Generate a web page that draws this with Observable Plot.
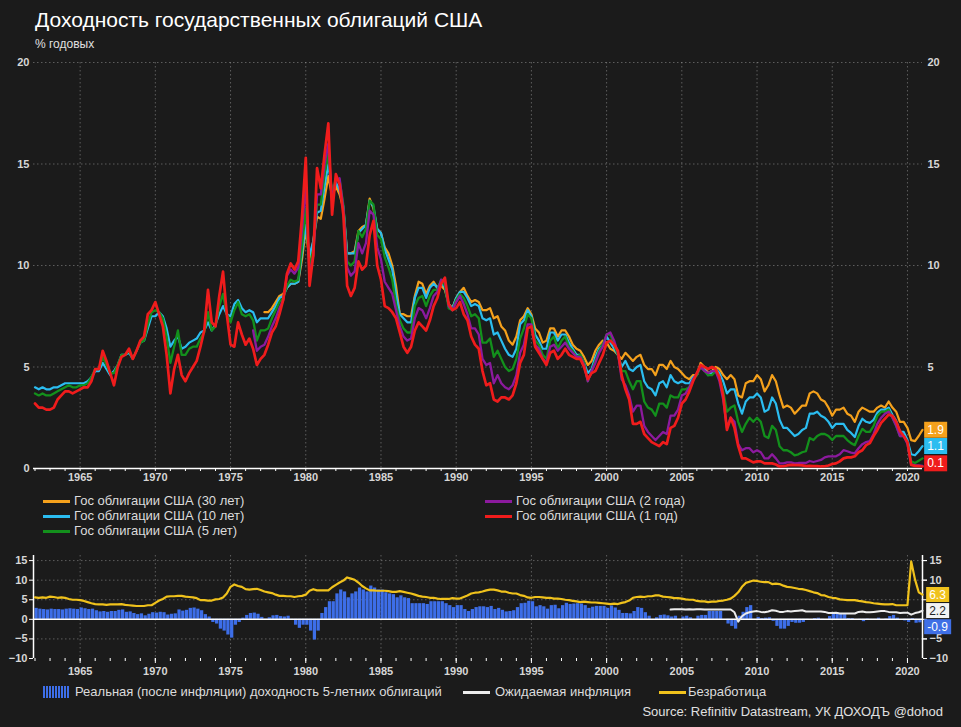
<!DOCTYPE html>
<html><head><meta charset="utf-8">
<script src="https://cdn.jsdelivr.net/npm/d3@7"></script>
<script src="https://cdn.jsdelivr.net/npm/@observablehq/plot@0.6"></script>
<style>
body{margin:0;background:#1b1b1b;}
#root{position:relative;width:961px;height:727px;background:#1b1b1b;overflow:hidden;font-family:"Liberation Sans",Arial,sans-serif;color:#e6e6e6;}
.abs{position:absolute;white-space:nowrap;}
#title{left:35px;top:8px;font-size:21px;line-height:24px;color:#fff;}
#sub{left:35px;top:37px;font-size:12px;line-height:14px;color:#e0e0e0;}
.lg{font-size:13px;line-height:14px;color:#dcdcdc;}
.lg2{font-size:13px;line-height:16px;color:#dcdcdc;}
.sw{position:absolute;height:3px;width:27px;}
#src{right:18px;top:704px;font-size:13px;line-height:16px;color:#e0e0e0;}
svg{position:absolute;left:0;}
</style></head>
<body><div id="root">
<div id="title" class="abs">Доходность государственных облигаций США</div>
<div id="sub" class="abs">% годовых</div>
<div id="src" class="abs">Source: Refinitiv Datastream, УК ДОХОДЪ @dohod</div>
</div>
<script>
// ---------- DATA (quarterly, % p.a.) ----------
const startMain = 1962;         // first quarter of 1-, 5-, 10-year series
const start2y = 1976.5;         // 2-year series starts mid-1976
const start30y = 1977.25;       // 30-year series starts Q2 1977
const startExpInfl = 2004.25;   // expected inflation starts 2004

const yield1y = [
3.2,3.0,3.0,2.9, 2.9,3.0,3.4,3.6, 3.8,3.8,3.7,3.8, 3.9,4.0,4.0,4.3, 4.9,4.9,5.8,5.3,
4.7,4.1,5.0,5.5, 5.6,5.9,5.4,5.8, 6.3,6.5,7.6,7.8, 8.2,7.6,7.0,5.6, 3.7,4.9,5.6,4.6,
4.3,4.7,5.0,5.3, 6.0,6.8,8.8,7.2, 7.0,8.5,9.7,7.6, 6.1,6.0,7.2,6.6, 6.1,6.4,5.9,5.1,
5.4,5.6,6.1,6.7, 7.0,7.6,8.3,9.6, 10.1,9.8,10.2,12.4, 15.3,9.0,10.5,14.8, 13.8,15.5,17.0,12.5,
14.5,14.0,12.5,9.0, 8.5,8.9,10.2,9.8, 10.0,11.5,12.2,10.0, 9.3,8.0,7.9,7.7, 7.4,6.7,6.0,5.7,
6.0,6.8,7.2,7.0, 6.8,7.3,8.0,8.4, 9.1,9.4,8.1,7.8, 7.9,8.2,7.6,7.3, 6.5,6.1,5.9,4.8,
4.1,4.2,3.4,3.3, 3.5,3.5,3.4,3.6, 4.2,5.2,5.6,6.9, 7.0,6.0,5.7,5.4, 5.1,5.7,5.8,5.4,
5.6,5.9,5.6,5.5, 5.4,5.4,5.0,4.4, 4.7,4.8,5.2,5.6, 6.2,6.3,6.1,5.8, 4.6,3.9,3.4,2.2,
2.2,2.3,1.7,1.5, 1.3,1.2,1.1,1.3, 1.2,2.0,2.1,2.5, 3.2,3.4,3.8,4.3, 4.7,5.1,5.0,4.9,
5.0,4.9,4.5,3.6, 1.9,2.5,2.0,1.1, 0.5,0.5,0.4,0.3, 0.35,0.35,0.25,0.25, 0.25,0.2,0.1,0.11,
0.15,0.18,0.17,0.17, 0.15,0.12,0.13,0.12, 0.12,0.1,0.11,0.15, 0.22,0.25,0.35,0.5, 0.55,0.55,0.6,0.8,
0.9,1.15,1.25,1.6, 1.9,2.25,2.45,2.65, 2.6,2.3,1.85,1.6, 1.3,0.17,0.13,0.12, 0.1];

const yield5y = [
3.7,3.6,3.7,3.6, 3.6,3.7,3.8,3.9, 4.0,4.1,4.0,4.0, 4.1,4.1,4.2,4.5, 4.9,4.9,5.5,5.1,
4.7,4.7,5.1,5.6, 5.6,5.8,5.4,5.8, 6.2,6.3,7.1,7.7, 7.8,7.7,7.4,6.5, 5.2,6.0,6.8,5.6,
5.6,5.9,6.0,6.0, 6.4,6.7,7.7,6.8, 7.0,8.0,8.6,7.6, 7.2,7.8,8.2,7.6, 7.5,7.6,7.3,6.3,
6.8,6.8,6.9,7.4, 7.8,8.2,8.4,9.0, 9.3,9.2,9.3,10.9, 12.8,9.9,10.8,13.0, 13.0,14.5,15.5,13.5,
14.3,14.2,13.0,10.2, 10.0,10.2,11.7,11.4, 11.8,13.2,13.0,11.5, 11.3,10.4,9.9,9.3, 8.1,7.3,6.9,6.7,
6.7,8.0,8.4,8.5, 8.0,8.5,8.8,8.8, 9.3,9.0,7.9,7.8, 8.3,8.6,8.4,8.0, 7.5,7.6,7.4,6.2,
6.2,6.4,5.5,5.8, 5.4,5.0,4.8,4.9, 5.4,6.4,6.9,7.6, 7.4,6.3,6.1,5.6, 5.4,6.3,6.5,5.9,
6.3,6.5,6.0,5.8, 5.5,5.6,5.2,4.3, 4.8,5.3,5.8,6.1, 6.6,6.6,6.1,5.6, 4.8,4.8,4.3,3.9,
4.3,4.3,3.3,3.0, 2.9,2.6,3.2,3.2, 3.0,3.6,3.5,3.5, 3.9,3.9,4.0,4.4, 4.6,5.0,4.8,4.6,
4.6,4.8,4.5,3.8, 2.8,3.0,3.1,2.3, 1.8,2.2,2.5,2.3, 2.5,2.3,1.6,1.5, 2.1,1.9,1.1,0.9,
0.9,0.8,0.65,0.7, 0.8,0.85,1.5,1.4, 1.6,1.7,1.7,1.6, 1.4,1.6,1.6,1.6, 1.4,1.25,1.15,1.6,
1.95,1.8,1.8,2.1, 2.6,2.8,2.8,2.9, 2.5,2.1,1.6,1.6, 1.3,0.35,0.27,0.38, 0.5];

const yield10y = [
4.0,3.9,4.0,3.9, 3.9,4.0,4.0,4.1, 4.2,4.2,4.2,4.2, 4.2,4.2,4.3,4.5, 4.8,4.8,5.2,4.9,
4.6,4.8,5.1,5.6, 5.6,5.7,5.4,5.8, 6.2,6.3,6.9,7.5, 7.5,7.7,7.5,6.9, 6.0,6.3,6.5,5.9,
6.0,6.2,6.3,6.4, 6.7,6.8,7.2,6.8, 7.1,7.6,8.0,7.6, 7.5,8.1,8.3,7.9, 7.7,7.8,7.7,7.2,
7.4,7.4,7.4,7.7, 8.0,8.4,8.5,8.9, 9.1,9.1,9.2,10.6, 12.0,10.5,11.2,12.6, 12.7,13.9,15.0,13.6,
14.1,13.7,12.9,10.6, 10.6,10.6,11.6,11.8, 12.0,13.2,12.9,11.8, 11.6,10.8,10.3,9.8, 8.6,7.6,7.4,7.2,
7.2,8.4,8.9,8.9, 8.4,8.9,9.1,8.9, 9.2,8.9,8.1,7.9, 8.4,8.7,8.7,8.4, 8.0,8.1,8.0,7.4,
7.3,7.4,6.6,6.7, 6.3,5.9,5.6,5.5, 5.9,7.1,7.3,7.8, 7.5,6.6,6.3,5.9, 5.9,6.7,6.7,6.3,
6.6,6.6,6.2,5.9, 5.6,5.6,5.2,4.7, 4.9,5.5,5.9,6.1, 6.5,6.2,5.9,5.6, 5.0,5.3,4.9,4.8,
5.0,5.1,4.3,4.0, 3.9,3.6,4.2,4.3, 4.0,4.6,4.3,4.2, 4.3,4.2,4.2,4.5, 4.6,5.1,4.9,4.6,
4.7,4.9,4.7,4.3, 3.7,3.9,3.9,3.2, 2.7,3.3,3.5,3.5, 3.7,3.5,2.8,2.9, 3.5,3.2,2.4,2.0,
2.0,1.8,1.6,1.7, 1.9,2.0,2.7,2.7, 2.8,2.6,2.5,2.3, 2.0,2.2,2.2,2.2, 1.9,1.75,1.55,2.1,
2.45,2.3,2.25,2.4, 2.75,2.9,2.9,3.0, 2.65,2.35,1.8,1.8, 1.4,0.7,0.65,0.85, 1.1];

const yield2y = [
6.8,5.8,
6.0,6.1,6.5,7.0, 7.4,7.9,8.3,9.5, 9.8,9.6,9.9,11.8, 14.0,9.5,10.5,13.5, 13.5,15.0,16.0,13.2,
14.2,14.3,12.8,9.9, 9.5,9.7,11.1,10.6, 11.1,12.7,12.5,10.9, 10.3,9.2,8.9,8.6, 7.8,7.0,6.5,6.3,
6.4,7.4,7.9,7.8, 7.4,7.9,8.5,8.7, 9.3,9.2,8.0,7.8, 8.2,8.5,8.1,7.6, 6.9,6.9,6.6,5.4,
5.1,5.2,4.2,4.6, 4.2,4.0,3.9,4.1, 4.6,5.7,6.1,7.1, 7.1,6.1,5.9,5.4, 5.2,6.0,6.1,5.8,
6.0,6.2,5.9,5.7, 5.5,5.5,5.1,4.3, 4.8,5.2,5.7,6.0, 6.6,6.7,6.3,5.7, 4.4,4.1,3.6,2.8,
3.1,3.1,2.1,1.8, 1.6,1.4,1.6,1.8, 1.7,2.6,2.6,2.9, 3.6,3.7,4.0,4.4, 4.7,5.0,4.8,4.7,
4.8,4.8,4.3,3.4, 2.0,2.5,2.3,1.2, 0.9,1.0,1.0,0.8, 0.9,0.8,0.5,0.5, 0.7,0.5,0.25,0.25,
0.3,0.3,0.25,0.27, 0.27,0.27,0.37,0.32, 0.37,0.42,0.55,0.6, 0.6,0.6,0.7,0.9, 0.85,0.78,0.75,1.0,
1.2,1.3,1.35,1.7, 2.2,2.5,2.7,2.8, 2.5,2.1,1.6,1.6, 1.2,0.2,0.15,0.15, 0.13];

const yield30y = [
7.7,7.7,7.9,
8.2,8.5,8.6,8.9, 9.1,9.1,9.2,10.3, 11.8,10.2,11.2,12.4, 12.3,13.3,14.4,13.4,
13.9,13.5,12.8,10.6, 10.6,10.7,11.7,11.9, 12.0,13.3,12.8,11.8, 11.6,10.9,10.6,10.0, 9.0,7.6,7.6,7.5,
7.5,8.5,9.2,9.1, 8.6,9.0,9.2,8.9, 9.0,8.8,8.1,7.9, 8.4,8.7,8.9,8.5, 8.2,8.3,8.2,7.8,
7.8,7.9,7.4,7.5, 7.0,6.8,6.3,6.1, 6.5,7.3,7.5,7.9, 7.6,6.9,6.7,6.2, 6.3,6.9,6.9,6.5,
6.8,6.8,6.5,6.1, 5.9,5.8,5.5,5.1, 5.3,5.8,6.1,6.3, 6.2,5.9,5.8,5.6, 5.4,5.7,5.5,5.3,
5.5,5.6,5.1,4.9, 4.9,4.6,5.1,5.1, 4.9,5.3,5.0,4.9, 4.7,4.5,4.4,4.6, 4.6,5.2,5.0,4.7,
4.8,5.0,4.9,4.6, 4.4,4.6,4.4,3.6, 3.5,4.2,4.3,4.3, 4.6,4.4,3.8,4.1, 4.6,4.3,3.6,3.0,
3.1,3.0,2.7,2.9, 3.1,3.1,3.7,3.8, 3.7,3.4,3.3,3.0, 2.6,2.9,2.9,3.0, 2.7,2.6,2.3,2.8,
3.0,2.9,2.8,2.8, 3.0,3.1,3.0,3.3, 3.0,2.8,2.3,2.3, 2.0,1.4,1.35,1.6, 1.9];

// real (inflation-adjusted) 5-year yield
const realYield5y = [
2.8,2.6,2.5,2.4, 2.6,2.5,2.5,2.4, 2.6,2.7,2.6,2.5, 2.9,2.7,2.5,2.6, 2.2,1.9,2.0,1.8,
2.0,2.0,2.3,2.4, 1.8,1.9,1.5,1.2, 1.4,0.9,1.3,1.7, 1.6,1.8,1.7,1.1, 1.3,1.4,2.4,2.1,
2.3,2.8,2.9,2.6, 2.2,1.2,0.6,-0.8, -1.2,-2.5,-3.0,-4.0, -4.8,-1.5,-0.8,0.3, 1.0,1.5,1.6,1.3,
0.5,-0.2,0.4,0.9, 1.0,0.7,0.6,0.8, -0.3,-1.5,-2.3,-1.5, -1.5,-3.0,-5.3,-3.0, 1.5,3.0,4.5,4.5,
6.5,7.5,7.0,5.5, 6.5,7.0,8.0,7.5, 7.0,8.5,8.0,7.5, 7.5,6.8,6.5,6.3, 5.5,6.0,5.5,5.3,
4.0,4.0,4.0,4.0, 3.8,4.5,4.5,4.5, 4.5,4.0,3.5,3.0, 3.5,3.5,2.5,2.0, 2.5,3.0,3.2,3.2,
3.0,3.3,2.5,2.8, 2.3,1.9,2.0,2.2, 3.0,4.0,4.1,4.6, 4.5,3.2,3.5,3.2, 2.6,3.5,3.6,2.7,
3.5,4.1,3.8,3.9, 4.0,3.9,3.5,2.8, 3.1,3.3,3.3,3.3, 2.8,3.4,2.9,2.3, 1.5,1.5,1.4,2.0,
3.0,2.8,1.7,0.8, 0.0,0.4,1.0,1.1, 0.9,0.6,0.8,0.0, 0.6,0.8,0.4,0.0, 0.8,1.0,1.0,2.0,
2.0,2.0,2.0,0.0, -1.2,-1.8,-2.5,0.8, 1.8,3.0,3.5,0.0, 0.5,0.2,0.3,0.4, -0.5,-1.8,-2.5,-2.5,
-1.8,-0.8,-1.0,-1.0, -0.8,-0.3,0.0,0.2, 0.3,-0.3,0.0,0.7, 1.5,1.6,1.5,1.2, 0.2,0.2,0.0,-0.1,
-0.6,0.1,-0.1,-0.1, 0.3,0.0,0.1,0.7, 1.0,0.3,0.0,-0.4, -0.8,0.2,-1.0,-0.9, -0.9];

const unemployment = [
5.6,5.5,5.6,5.5, 5.8,5.7,5.5,5.6, 5.5,5.2,5.0,5.0, 4.9,4.7,4.4,4.1, 3.9,3.8,3.8,3.7,
3.8,3.8,3.8,3.9, 3.7,3.6,3.5,3.4, 3.4,3.4,3.6,3.6, 4.2,4.8,5.2,5.8, 5.9,5.9,6.0,6.0,
5.8,5.7,5.6,5.4, 4.9,4.9,4.8,4.8, 5.1,5.2,5.6,6.6, 8.3,8.9,8.5,8.3, 7.7,7.6,7.7,7.8,
7.5,7.1,6.9,6.7, 6.3,6.0,6.0,5.9, 5.9,5.7,5.9,6.0, 6.3,7.3,7.7,7.4, 7.4,7.4,7.4,8.2,
8.8,9.4,9.9,10.7, 10.4,10.1,9.4,8.5, 7.9,7.4,7.4,7.3, 7.3,7.3,7.2,7.0, 7.0,7.2,7.0,6.8,
6.6,6.3,6.0,5.8, 5.7,5.5,5.5,5.3, 5.2,5.2,5.2,5.4, 5.3,5.3,5.7,6.1, 6.6,6.8,6.9,7.1,
7.4,7.6,7.6,7.4, 7.1,7.1,6.8,6.6, 6.6,6.2,6.0,5.6, 5.5,5.7,5.7,5.6, 5.5,5.5,5.3,5.3,
5.2,5.0,4.9,4.7, 4.6,4.4,4.5,4.4, 4.3,4.3,4.2,4.1, 4.0,3.9,4.0,3.9, 4.2,4.4,4.8,5.5,
5.7,5.8,5.7,5.9, 5.9,6.1,6.1,5.8, 5.7,5.6,5.4,5.4, 5.3,5.1,5.0,5.0, 4.7,4.6,4.6,4.4,
4.5,4.5,4.7,4.8, 5.0,5.3,6.0,6.9, 8.3,9.3,9.6,9.9, 9.8,9.6,9.5,9.5, 9.0,9.1,9.0,8.6,
8.3,8.2,8.0,7.8, 7.7,7.5,7.2,6.9, 6.7,6.2,6.1,5.7, 5.5,5.4,5.1,5.0, 4.9,4.9,4.9,4.7,
4.6,4.4,4.3,4.1, 4.0,3.9,3.8,3.8, 3.9,3.6,3.6,3.6, 3.6,14.8,10.2,6.9, 6.3];

const expectedInflation = [
2.5,2.6,2.6,
2.6,2.5,2.6,2.5, 2.6,2.6,2.5,2.5, 2.5,2.5,2.5,2.5, 2.5,2.5,1.8,-0.6,
0.8,1.5,1.8,2.0, 2.1,1.9,1.8,2.0, 2.3,2.2,1.9,1.9, 2.1,2.0,2.1,2.2, 2.3,2.0,2.0,2.0,
2.0,2.0,1.9,1.6, 1.6,1.7,1.5,1.5, 1.5,1.5,1.5,1.9, 2.0,1.8,1.8,1.9, 2.0,2.1,2.1,1.9,
1.8,1.8,1.6,1.7, 1.7,1.2,1.6,1.8, 2.2];

const topSeries = [
  {name: "Гос облигации США (30 лет)", values: yield30y, start: start30y, color: "#f5a11c", width: 2.2, label: true},
  {name: "Гос облигации США (10 лет)", values: yield10y, start: startMain, color: "#2bbdf0", width: 2.2, label: true},
  {name: "Гос облигации США (5 лет)",  values: yield5y,  start: startMain, color: "#13901c", width: 2.3, label: false},
  {name: "Гос облигации США (2 года)", values: yield2y,  start: start2y,  color: "#8c1a9e", width: 2.3, label: false},
  {name: "Гос облигации США (1 год)",  values: yield1y,  start: startMain, color: "#f01c1c", width: 2.7, label: true}
];
const yearTicks = d3.range(1962, 2021);
const fiveYearTicks = d3.range(1965, 2021, 5);
const topYTicksLeft = [0, 5, 10, 15, 20];
const topYTicksRight = [5, 10, 15, 20];
const botYTicks = [-10, -5, 0, 5, 10, 15];
const botYTicksRightLabels = [-10, -5, 10, 15];
const xMin = 1961.9, xMax = 2021.0;

// ---------- helpers ----------
const toPts = (start, vals) => vals.map((v, i) => ({x: start + i / 4, y: v}));
const FONT = '"Liberation Sans", Arial, sans-serif';
const root = document.getElementById("root");
const gridStyle = {stroke: "#b0b0b0", strokeOpacity: 0.45, strokeDasharray: "1.5 2.5", strokeWidth: 1};

// ---------- TOP CHART ----------
const topLabels = topSeries.filter(s => s.label).map(s => ({
  x: s.start + (s.values.length - 1) / 4,
  y: s.values[s.values.length - 1],
  text: s.values[s.values.length - 1].toFixed(1),
  bg: s.color, fg: "#ffffff"
}));
const topDy = [0, 0, -3];

const topPlot = Plot.plot({
  width: 961, height: 440,
  marginTop: 12, marginBottom: 22, marginLeft: 33, marginRight: 39,
  x: {domain: [xMin, xMax]},
  y: {domain: [0, 20]},
  style: {background: "transparent", color: "#d6d6d6", fontSize: "11px", fontWeight: "bold", fontFamily: FONT},
  marks: [
    Plot.gridY({ticks: [5, 10, 15, 20], ...gridStyle}),
    Plot.gridX({ticks: fiveYearTicks, ...gridStyle}),
    Plot.axisY({ticks: topYTicksLeft, anchor: "left", tickSize: 0, tickPadding: 4, tickFormat: d3.format("d"), label: null}),
    Plot.axisY({ticks: topYTicksRight, anchor: "right", tickSize: 0, tickPadding: 5, tickFormat: d3.format("d"), label: null}),
    Plot.axisX({ticks: yearTicks, tickSize: 3, tickFormat: () => "", stroke: "#ffffff", label: null}),
    Plot.axisX({ticks: fiveYearTicks, tickSize: 0, tickPadding: 5, tickFormat: d3.format("d"), label: null}),
    Plot.ruleY([0], {stroke: "#ffffff", strokeWidth: 1.5}),
    ...topSeries.map(s => Plot.line(toPts(s.start, s.values), {x: "x", y: "y", stroke: s.color, strokeWidth: s.width, strokeLinejoin: "round"})),
    Plot.text(topLabels, {x: "x", y: "y", text: "text", dx: 13, fill: "fg", fontSize: 12, fontWeight: "normal", textAnchor: "middle"})
  ]
});
topPlot.style.top = "50px";
root.appendChild(topPlot);

// ---------- BOTTOM CHART ----------
const realPts = toPts(startMain, realYield5y);
const unempPts = toPts(startMain, unemployment);
const inflPts = toPts(startExpInfl, expectedInflation);
const botLabels = [
  {x: xMax, y: unemployment[unemployment.length - 1], text: unemployment[unemployment.length - 1].toFixed(1), bg: "#f0c21c", fg: "#ffffff"},
  {x: xMax, y: expectedInflation[expectedInflation.length - 1], text: expectedInflation[expectedInflation.length - 1].toFixed(1), bg: "#f2f2f2", fg: "#222222"},
  {x: xMax, y: realYield5y[realYield5y.length - 1], text: realYield5y[realYield5y.length - 1].toFixed(1), bg: "#3f6fe6", fg: "#ffffff"}
];
const botDy = [0, 0, 4];

const botPlot = Plot.plot({
  width: 961, height: 137,
  marginTop: 10, marginBottom: 24, marginLeft: 33, marginRight: 39,
  x: {domain: [xMin, xMax]},
  y: {domain: [-10, 16.3]},
  style: {background: "transparent", color: "#d6d6d6", fontSize: "11px", fontWeight: "bold", fontFamily: FONT},
  marks: [
    Plot.gridY({ticks: [-5, 5, 10, 15], ...gridStyle}),
    Plot.gridX({ticks: fiveYearTicks, ...gridStyle}),
    Plot.rectY(realPts, {x1: d => d.x, x2: d => d.x + 0.25, y: "y", fill: "#3d6ee8", insetRight: 0.5, clip: true}),
    Plot.ruleY([0], {stroke: "#ffffff", strokeWidth: 1.5}),
    Plot.ruleX([xMin, xMax], {stroke: "#ffffff", strokeWidth: 1.5}),
    Plot.axisY({ticks: botYTicks, anchor: "left", tickSize: 4, tickPadding: 2, stroke: "#ffffff", tickFormat: d3.format("d"), label: null}),
    Plot.axisY({ticks: botYTicks, anchor: "right", tickSize: 4, tickPadding: 3, stroke: "#ffffff", tickFormat: () => "", label: null}),
    Plot.axisY({ticks: botYTicksRightLabels, anchor: "right", tickSize: 4, tickPadding: 3, stroke: "#ffffff", tickFormat: d3.format("d"), label: null}),
    Plot.axisX({ticks: yearTicks, tickSize: 3, tickFormat: () => "", stroke: "#ffffff", label: null}),
    Plot.axisX({ticks: fiveYearTicks, tickSize: 5, tickPadding: 4, stroke: "#ffffff", tickFormat: d3.format("d"), label: null}),
    Plot.line(unempPts, {x: "x", y: "y", stroke: "#f0c21c", strokeWidth: 2.2, strokeLinejoin: "round"}),
    Plot.line(inflPts, {x: "x", y: "y", stroke: "#ececec", strokeWidth: 2, strokeLinejoin: "round"}),
    Plot.text(botLabels, {x: "x", y: "y", text: "text", dx: 15, fill: "fg", fontSize: 12, fontWeight: "normal", textAnchor: "middle"})
  ]
});
botPlot.style.top = "545px";
root.appendChild(botPlot);

// ---------- label boxes behind value labels ----------
function boxLabels(svg, labels, dys, h) {
  const texts = svg.querySelectorAll('g[aria-label="text"] text');
  texts.forEach((t, i) => {
    const dy = dys[i] || 0;
    if (dy) {
      const tr = t.getAttribute("transform") || "";
      t.setAttribute("transform", tr + ` translate(0,${dy})`);
    }
    const bb = t.getBBox();
    const w = Math.max(bb.width + 6, 22);
    const r = document.createElementNS("http://www.w3.org/2000/svg", "rect");
    r.setAttribute("x", bb.x + bb.width / 2 - w / 2);
    r.setAttribute("y", bb.y + bb.height / 2 - h / 2);
    r.setAttribute("width", w);
    r.setAttribute("height", h);
    r.setAttribute("fill", labels[i].bg);
    const tr2 = t.getAttribute("transform");
    if (tr2) r.setAttribute("transform", tr2);
    t.parentNode.insertBefore(r, t);
  });
}
boxLabels(topPlot, topLabels, topDy, 16);
boxLabels(botPlot, botLabels, botDy, 15);

// ---------- LEGENDS ----------
function addDiv(cls, style, html) {
  const d = document.createElement("div");
  d.className = cls;
  Object.assign(d.style, style);
  d.innerHTML = html;
  root.appendChild(d);
  return d;
}
const legendPos = [[43, 501], [43, 516], [43, 531], [485, 501], [485, 516]];
topSeries.forEach((s, i) => {
  const [lx, ly] = legendPos[i];
  addDiv("sw", {left: lx + "px", top: (ly - 1) + "px", background: s.color}, "");
  addDiv("abs lg", {left: (lx + 31) + "px", top: (ly - 7) + "px"}, s.name);
});
// bottom legend
addDiv("abs", {left: "43px", top: "686px", width: "27px", height: "12px",
  background: "repeating-linear-gradient(90deg,#3d6ee8 0 2px,transparent 2px 3px)"}, "");
addDiv("abs lg2", {left: "75px", top: "684px"}, "Реальная (после инфляции) доходность 5-летних облигаций");
addDiv("sw", {left: "463px", top: "691px", background: "#ececec"}, "");
addDiv("abs lg2", {left: "495px", top: "684px"}, "Ожидаемая инфляция");
addDiv("sw", {left: "659px", top: "691px", background: "#f0c21c"}, "");
addDiv("abs lg2", {left: "688px", top: "684px"}, "Безработица");
</script>
</body></html>
